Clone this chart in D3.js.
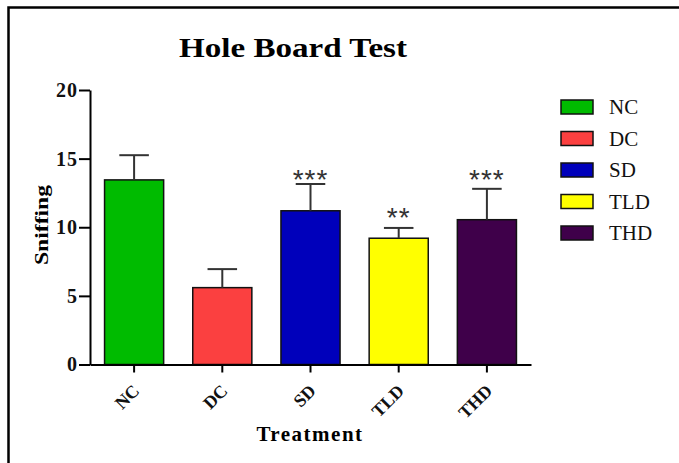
<!DOCTYPE html>
<html lang="en">
<head>
<meta charset="UTF-8">
<title>Hole Board Test</title>
<style>
  body { margin: 0; background: #fff; }
  svg { display: block; }
  .axis path, .axis line { stroke: #000; stroke-width: 2px; }
  .axis text { font-family: "Liberation Serif", serif; font-weight: bold; fill: #111; }
  .bar { stroke: #111; stroke-width: 1.5px; }
  .err { stroke: #333; stroke-width: 2px; fill: none; }
</style>
<script src="https://d3js.org/d3.v7.min.js"></script>
</head>
<body>
<script>
// values
const groups = ["NC", "DC", "SD", "TLD", "THD"];
const means = [13.45, 5.6, 11.2, 9.2, 10.55];
const errors = [1.8, 1.35, 1.95, 0.75, 2.25];
const stars = ["", "", "***", "**", "***"];
const starLevels = [0, 0, 13.9, 11.1, 13.9];
const colors = ["#00bb00", "#fb4040", "#0000bb", "#ffff00", "#3f004a"];
const yTicks = [0, 5, 10, 15, 20];

const width = 679, height = 463;
const svg = d3.select("body").append("svg")
  .attr("width", width).attr("height", height);

// frame (only top and left edges show)
svg.append("path")
  .attr("d", `M8.5,${height} V7.5 H${width}`)
  .attr("fill", "none").attr("stroke", "#000").attr("stroke-width", 2.5);

const x = d3.scaleBand().domain(groups).range([90, 531]).paddingInner(0.33).paddingOuter(0.165);
const y = d3.scaleLinear().domain([0, 20]).range([364.5, 90]);

svg.append("text")
  .attr("x", 293).attr("y", 57)
  .attr("text-anchor", "middle")
  .attr("textLength", 228).attr("lengthAdjust", "spacingAndGlyphs")
  .style("font-family", "Liberation Serif, serif")
  .style("font-weight", "bold").style("font-size", "28px")
  .text("Hole Board Test");

// bars
svg.selectAll(".bar")
  .data(groups)
  .enter().append("rect")
  .attr("class", "bar")
  .attr("x", d => x(d))
  .attr("width", x.bandwidth())
  .attr("y", (d, i) => y(means[i]))
  .attr("height", (d, i) => y(0) - y(means[i]))
  .attr("fill", (d, i) => colors[i]);

// upper error bars
const eb = svg.selectAll(".errg").data(groups).enter().append("g");
eb.append("line").attr("class", "err")
  .attr("x1", d => x(d) + x.bandwidth() / 2)
  .attr("x2", d => x(d) + x.bandwidth() / 2)
  .attr("y1", (d, i) => y(means[i]))
  .attr("y2", (d, i) => y(means[i] + errors[i]));
eb.append("line").attr("class", "err")
  .attr("x1", d => x(d) + x.bandwidth() / 4)
  .attr("x2", d => x(d) + x.bandwidth() * 3 / 4)
  .attr("y1", (d, i) => y(means[i] + errors[i]))
  .attr("y2", (d, i) => y(means[i] + errors[i]));

// significance stars
svg.selectAll(".star").data(groups).enter().append("text")
  .attr("x", d => x(d) + x.bandwidth() / 2)
  .attr("y", (d, i) => y(starLevels[i]) + 15)
  .attr("text-anchor", "middle")
  .style("font-family", "Liberation Sans, sans-serif")
  .style("font-size", "28px").style("fill", "#333")
  .style("letter-spacing", "1px")
  .text((d, i) => stars[i]);

// axes
svg.append("g").attr("class", "axis")
  .attr("transform", "translate(90,0)")
  .call(d3.axisLeft(y).tickValues(yTicks).tickSize(11).tickSizeOuter(0).tickPadding(1))
  .selectAll("text").style("font-size", "20px").style("letter-spacing", "1px");

svg.append("g").attr("class", "axis")
  .attr("transform", `translate(0,${y(0)})`)
  .call(d3.axisBottom(x).tickSize(8).tickSizeOuter(0))
  .selectAll("text")
  .style("font-size", "18px")
  .attr("x", 0).attr("y", 0).attr("dy", "0.35em")
  .attr("text-anchor", "end")
  .attr("transform", "translate(2,23) rotate(-45)");

svg.append("text")
  .attr("transform", "translate(47.5,225) rotate(-90)")
  .attr("text-anchor", "middle")
  .attr("textLength", 80).attr("lengthAdjust", "spacingAndGlyphs")
  .style("font-family", "Liberation Serif, serif")
  .style("font-weight", "bold").style("font-size", "19px")
  .text("Sniffing");

svg.append("text")
  .attr("x", 310).attr("y", 441)
  .attr("text-anchor", "middle")
  .style("font-family", "Liberation Serif, serif")
  .style("font-weight", "bold").style("font-size", "21px")
  .style("letter-spacing", "1.5px")
  .text("Treatment");

// legend
const leg = svg.selectAll(".leg").data(groups).enter().append("g")
  .attr("transform", (d, i) => `translate(561,${100 + i * 31.5})`);
leg.append("rect")
  .attr("width", 32).attr("height", 14)
  .attr("fill", (d, i) => colors[i])
  .attr("stroke", "#111").attr("stroke-width", 1.5);
leg.append("text")
  .attr("x", 48).attr("y", 14)
  .style("font-family", "Liberation Serif, serif")
  .style("font-size", "21px").style("fill", "#111")
  .text(d => d);
</script>
</body>
</html>
